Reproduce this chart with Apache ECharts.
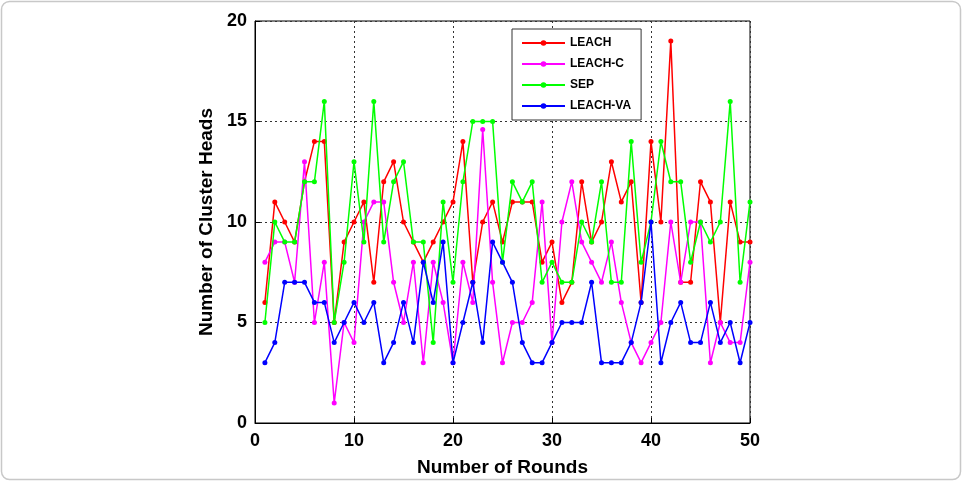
<!DOCTYPE html>
<html lang="en">
<head>
    <meta charset="UTF-8">
    <title>Cluster Heads</title>
    <script src="https://cdn.jsdelivr.net/npm/echarts@6/dist/echarts.min.js"></script>
    <style>
        body{ margin: 0; background: #fff; }
    </style>
</head>
<body>
    <div id="myChart" style="width: 963px;height:482px;"></div>
    <script>
        // data
        var rounds = [1,2,3,4,5,6,7,8,9,10,11,12,13,14,15,16,17,18,19,20,21,22,23,24,25,
                      26,27,28,29,30,31,32,33,34,35,36,37,38,39,40,41,42,43,44,45,46,47,48,49,50];
        var leach   = [6,11,10,9,12,14,14,5,9,10,11,7,12,13,10,9,8,9,10,11,14,7,10,11,9,
                       11,11,11,8,9,6,7,12,9,10,13,11,12,6,14,10,19,7,7,12,11,5,11,9,9];
        var leachC  = [8,9,9,7,13,5,8,1,5,4,10,11,11,7,5,8,3,8,6,3,8,6,14.6,7,3,
                       5,5,6,11,4,10,12,9,8,7,9,6,4,3,4,5,10,7,10,10,3,5,4,4,8];
        var sep     = [5,10,9,9,12,12,16,5,8,13,9,16,9,12,13,9,9,4,11,7,12,15,15,15,8,
                       12,11,12,7,8,7,7,10,9,12,7,7,14,8,10,14,12,12,8,10,9,10,16,7,11];
        var leachVA = [3,4,7,7,7,6,6,4,5,6,5,6,3,4,6,4,8,6,9,3,5,7,4,9,8,
                       7,4,3,3,4,5,5,5,7,3,3,3,4,6,10,3,5,6,4,4,6,4,5,3,5];
        var names  = ['LEACH', 'LEACH-C', 'SEP', 'LEACH-VA'];
        var colors = ['#ff0000', '#ff00ff', '#00ff00', '#0000ff'];
        var yTicks = [0, 5, 10, 15, 20];

        function pairs(vals){
            return rounds.map(function(r, i){ return [r, vals[i]]; });
        }

        var allData = [leach, leachC, sep, leachVA];
        var series = allData.map(function(vals, k){
            return {
                name: names[k],
                type: 'line',
                data: pairs(vals),
                symbol: 'circle',
                symbolSize: 5,
                showSymbol: true,
                lineStyle: {width: 1.5, color: colors[k]},
                itemStyle: {color: colors[k]},
                z: 2 + k
            };
        });

        var font = 'Liberation Sans, Arial, sans-serif';
        var myChart = echarts.init(document.getElementById('myChart'));
        var option = {
            animation: false,
            backgroundColor: '#fff',
            graphic: [{
                type: 'rect',
                shape: {x: 1.5, y: 1.5, width: 959, height: 478, r: 8},
                style: {fill: 'none', stroke: '#c8c8c8', lineWidth: 1.5},
                silent: true
            }],
            grid: {
                left: 255, right: 213, top: 21, bottom: 54,
                show: true, borderColor: '#000', borderWidth: 1
            },
            legend: {
                orient: 'vertical',
                left: 512, top: 29,
                padding: [7, 10, 7, 9],
                itemWidth: 43, itemHeight: 7, itemGap: 7,
                borderColor: '#333', borderWidth: 1,
                backgroundColor: '#fff',
                textStyle: {fontFamily: font, fontWeight: 'bold', fontSize: 12, color: '#000', lineHeight: 14},
                data: names
            },
            xAxis: {
                type: 'value',
                min: 0, max: 50, interval: 10,
                name: 'Number of Rounds',
                nameLocation: 'middle',
                nameGap: 35,
                nameTextStyle: {fontFamily: font, fontWeight: 'bold', fontSize: 19, color: '#000'},
                axisLine: {lineStyle: {color: '#000', width: 1}},
                axisTick: {inside: true, length: 5, lineStyle: {color: '#000'}},
                axisLabel: {fontFamily: font, fontWeight: 'bold', fontSize: 18, color: '#000', margin: 9},
                splitLine: {show: true, lineStyle: {type: [2, 3], color: '#333', width: 1}}
            },
            yAxis: {
                type: 'value',
                min: yTicks[0], max: yTicks[yTicks.length - 1], interval: 5,
                name: 'Number of Cluster Heads',
                nameLocation: 'middle',
                nameGap: 36,
                nameTextStyle: {fontFamily: font, fontWeight: 'bold', fontSize: 19, color: '#000'},
                axisLine: {show: true, lineStyle: {color: '#000', width: 1}},
                axisTick: {show: true, inside: true, length: 5, lineStyle: {color: '#000'}},
                axisLabel: {fontFamily: font, fontWeight: 'bold', fontSize: 18, color: '#000', margin: 8},
                splitLine: {show: true, lineStyle: {type: [2, 3], color: '#333', width: 1}}
            },
            series: series
        };
        myChart.setOption(option);
    </script>
</body>
</html>
